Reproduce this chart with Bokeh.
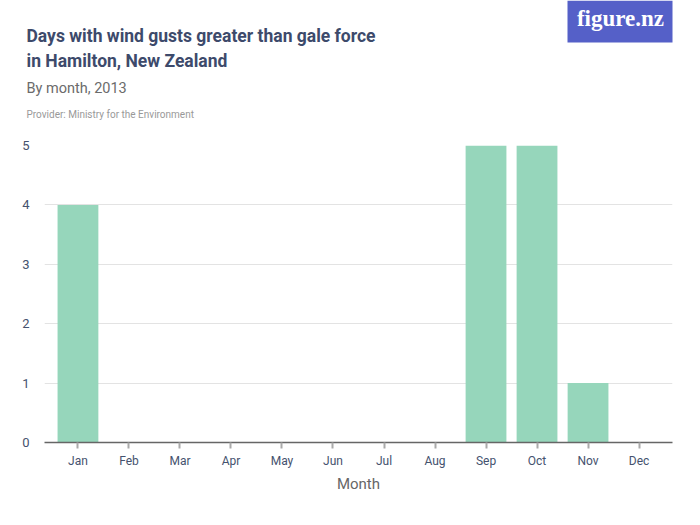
from bokeh.plotting import figure
from bokeh.models import FactorRange, Range1d, Label, FixedTicker, BoxAnnotation
from bokeh.embed import file_html
from bokeh.resources import INLINE

months = ["Jan", "Feb", "Mar", "Apr", "May", "Jun", "Jul", "Aug", "Sep", "Oct", "Nov", "Dec"]
days = [4, 0, 0, 0, 0, 0, 0, 0, 5, 5, 1, 0]
y_ticks = [0, 1, 2, 3, 4, 5]

title_lines = ["Days with wind gusts greater than gale force", "in Hamilton, New Zealand"]
subtitle = "By month, 2013"
provider = "Provider: Ministry for the Environment"

FONT = "Roboto"
W = 684
HEAD_H = 130
MAIN_H = 509 - HEAD_H
FL, FT, FR, FB = 44, 145, 672, 442  # frame edges on the page

# ---------- header (pixel coordinates: data units == pixels, y downwards) ----------
head = figure(width=W, height=HEAD_H, x_range=Range1d(0, W), y_range=Range1d(HEAD_H, 0),
              output_backend="svg", toolbar_location=None, x_axis_location=None,
              y_axis_location=None, min_border=0, min_border_left=0, min_border_right=0,
              min_border_top=0, min_border_bottom=0)
head.grid.visible = False
head.outline_line_color = None


def add_label(text, x, baseline, size, color, style="normal", font=FONT):
    # the svg text sits about 0.45em lower than the requested baseline; compensate
    y = baseline - 0.45 * size
    head.add_layout(Label(x=x, y=y, text=text, text_font=font, text_font_size=f"{size}px",
                          text_color=color, text_font_style=style, text_baseline="alphabetic"))


add_label(title_lines[0], 26, 43, 17.5, "#3d4a6b", "bold")
add_label(title_lines[1], 26, 68, 17.5, "#3d4a6b", "bold")
add_label(subtitle, 26, 95, 14.5, "#6b6b6b")
add_label(provider, 26, 118, 10, "#999999")

head.add_layout(BoxAnnotation(left=567, right=FR, top=0, bottom=42,
                              fill_color="#5560c8", fill_alpha=1, line_color=None))
head.add_layout(Label(x=620, y=28 - 0.45 * 23, text="figure.nz", text_font="Liberation Serif",
                      text_font_size="23px", text_color="white", text_font_style="bold",
                      text_align="center", text_baseline="alphabetic"))

# ---------- main chart ----------
top_border = FT - HEAD_H
p = figure(x_range=FactorRange(factors=months, range_padding=0.026),
           y_range=Range1d(0, 5),
           width=W, height=MAIN_H, output_backend="svg", toolbar_location=None,
           min_border_left=FL, min_border_right=W - FR, min_border_top=top_border,
           min_border_bottom=509 - FB)
p.outline_line_color = None

p.vbar(x=months, top=days, width=0.8, color="#96d6bb", line_color=None)

p.xgrid.grid_line_color = None
p.ygrid.grid_line_color = "#e3e3e3"
p.ygrid.ticker = FixedTicker(ticks=y_ticks)

p.yaxis.ticker = FixedTicker(ticks=y_ticks)
p.yaxis.axis_line_color = None
p.yaxis.major_tick_line_color = None
p.yaxis.minor_tick_line_color = None
p.yaxis.major_label_text_font = FONT
p.yaxis.major_label_text_font_size = "13px"
p.yaxis.major_label_text_color = "#45526e"
p.yaxis.major_label_standoff = 9

p.xaxis.axis_line_color = "#666666"
p.xaxis.axis_line_width = 1.5
p.xaxis.major_tick_line_color = "#aaaaaa"
p.xaxis.major_tick_line_width = 2
p.xaxis.major_tick_out = 6
p.xaxis.major_tick_in = 0
p.xaxis.major_label_text_font = FONT
p.xaxis.major_label_text_font_size = "12px"
p.xaxis.major_label_text_color = "#45526e"
p.xaxis.major_label_standoff = 5
p.xaxis.axis_label = "Month"
p.xaxis.axis_label_text_font = FONT
p.xaxis.axis_label_text_font_size = "15px"
p.xaxis.axis_label_text_font_style = "normal"
p.xaxis.axis_label_text_color = "#666666"
p.xaxis.axis_label_standoff = 4

open("out.html", "w").write(file_html([head, p], INLINE))
